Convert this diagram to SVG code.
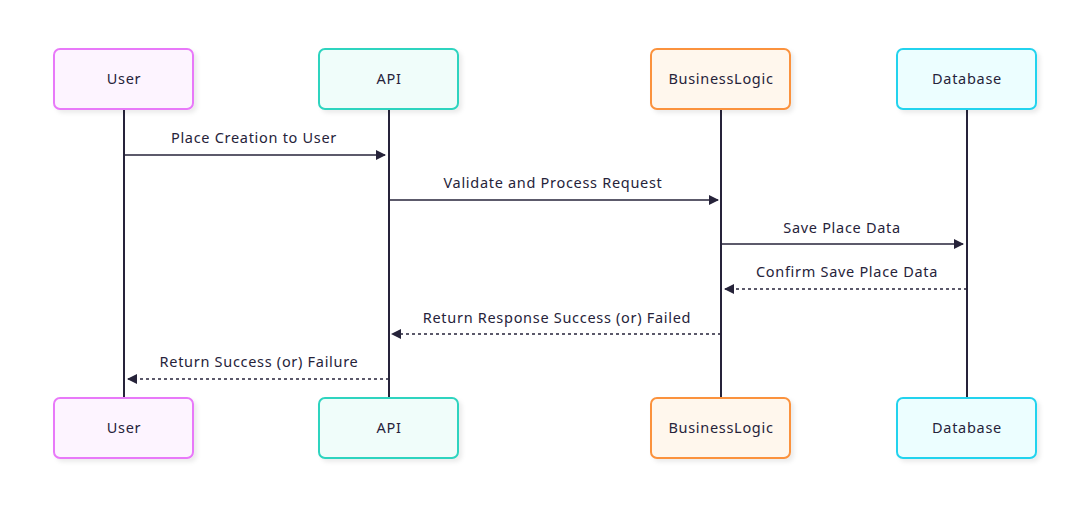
<svg xmlns="http://www.w3.org/2000/svg" width="1080" height="515" viewBox="0 0 1080 515">
<defs>
<marker id="ah" viewBox="0 0 10 10" refX="9" refY="5" markerWidth="10" markerHeight="10" markerUnits="userSpaceOnUse" orient="auto">
<path d="M0,0 L10,5 L0,10 z" fill="#26233a"/>
</marker>
<filter id="sh" x="-10%" y="-10%" width="130%" height="140%">
<feDropShadow dx="3" dy="3" stdDeviation="2" flood-color="#000" flood-opacity="0.08"/>
</filter>
</defs>
<style>
text{font-family:"Noto Sans","Open Sans",sans-serif;font-size:14.5px;letter-spacing:0.7px;fill:#26233a;text-anchor:middle}
.box{stroke-width:2;filter:url(#sh)}
.life{stroke:#26233a;stroke-width:2}
.msg{stroke:#26233a;stroke-width:1.6;fill:none;marker-end:url(#ah)}
.dash{stroke-dasharray:3,3}
.u{fill:#fdf4ff;stroke:#e879f9}
.a{fill:#f0fdfa;stroke:#2dd4bf}
.b{fill:#fff7ed;stroke:#fb923c}
.d{fill:#ecfeff;stroke:#22d3ee}
</style>
<rect width="1080" height="515" fill="#fff"/>
<g id="lifelines">
<line class="life" x1="124" y1="109" x2="124" y2="398"/>
<line class="life" x1="389" y1="109" x2="389" y2="398"/>
<line class="life" x1="721" y1="109" x2="721" y2="398"/>
<line class="life" x1="967" y1="109" x2="967" y2="398"/>
</g>
<g id="user-top"><rect class="box u" x="54" y="49" width="139" height="60" rx="6"/><text x="124" y="84">User</text></g>
<g id="api-top"><rect class="box a" x="319" y="49" width="139" height="60" rx="6"/><text x="389" y="84">API</text></g>
<g id="bl-top"><rect class="box b" x="651" y="49" width="139" height="60" rx="6"/><text x="721" y="84">BusinessLogic</text></g>
<g id="db-top"><rect class="box d" x="897" y="49" width="139" height="60" rx="6"/><text x="967" y="84">Database</text></g>
<g id="user-bottom"><rect class="box u" x="54" y="398" width="139" height="60" rx="6"/><text x="124" y="433">User</text></g>
<g id="api-bottom"><rect class="box a" x="319" y="398" width="139" height="60" rx="6"/><text x="389" y="433">API</text></g>
<g id="bl-bottom"><rect class="box b" x="651" y="398" width="139" height="60" rx="6"/><text x="721" y="433">BusinessLogic</text></g>
<g id="db-bottom"><rect class="box d" x="897" y="398" width="139" height="60" rx="6"/><text x="967" y="433">Database</text></g>
<g id="connectors">
<line class="msg" x1="124" y1="155" x2="385" y2="155"/>
<text x="254" y="143">Place Creation to User</text>
<line class="msg" x1="389" y1="200" x2="718" y2="200"/>
<text x="553" y="188">Validate and Process Request</text>
<line class="msg" x1="721" y1="244" x2="963" y2="244"/>
<text x="842" y="233">Save Place Data</text>
<line class="msg dash" x1="967" y1="289" x2="725" y2="289"/>
<text x="847" y="277">Confirm Save Place Data</text>
<line class="msg dash" x1="721" y1="334" x2="392" y2="334"/>
<text x="557" y="323">Return Response Success (or) Failed</text>
<line class="msg dash" x1="389" y1="379" x2="128" y2="379"/>
<text x="259" y="367">Return Success (or) Failure</text>
</g>
</svg>
